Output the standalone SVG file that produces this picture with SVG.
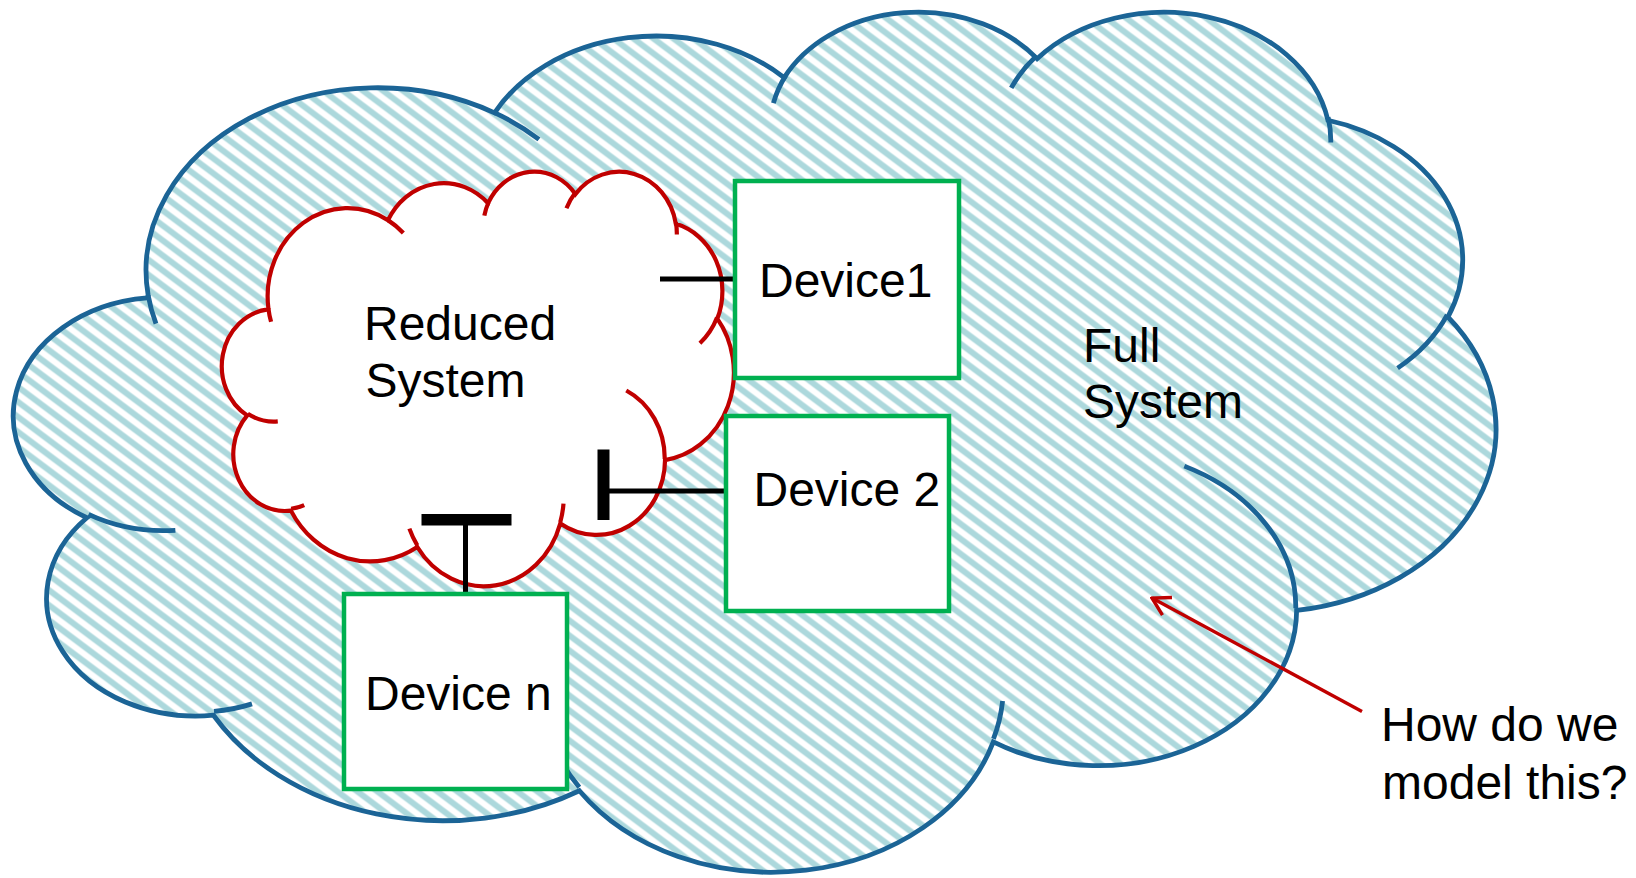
<svg xmlns="http://www.w3.org/2000/svg" width="1636" height="878" viewBox="0 0 1636 878">
<style>
.lbl{font-family:"Liberation Sans",Arial,sans-serif;font-size:48px;fill:#000}
.box{fill:#fff;stroke:#00b050;stroke-width:4.5}
.conn{stroke:#000;stroke-width:5;fill:none}
.bar{fill:#000}
.outer{stroke:#1b6496;stroke-width:4.8;fill:url(#hatch)}
.outerTail{stroke:#1b6496;stroke-width:4.8;fill:none}
.red{stroke:#c00000;stroke-width:4.2;fill:#fff}
.redTail{stroke:#c00000;stroke-width:4.2;fill:none}
</style>
<defs>
<pattern id="hatch" patternUnits="userSpaceOnUse" width="20" height="15" patternTransform="scale(29.174 50.246)">
<rect width="20" height="15" fill="#fff"/>
<path d="M-4,-3 L24,18 M-4,12 L24,33 M-4,-18 L24,3" stroke="#acd8dc" stroke-width="6" fill="none"/>
</pattern>
<marker id="openArrow" viewBox="-22 -12 24 24" refX="0" refY="0" markerUnits="userSpaceOnUse" markerWidth="24" markerHeight="24" orient="auto">
<path d="M-17.3,-10 L0,0 L-17.3,10" fill="none" stroke="#c00000" stroke-width="3.4"/>
</marker>
</defs>
<rect width="1636" height="878" fill="#fff"/>

<g id="full-system">
<g transform="translate(14.5 9.3) scale(0.034277 0.019902)">
<path class="outer" vector-effect="non-scaling-stroke" d="M3900,14370 A6753,9190 0 0 1 14005,5202 A5333,7267 0 0 1 22456,3432 A4365,5945 0 0 1 29833,2481 A4857,6595 0 0 1 38318,5576 A5333,7273 0 0 1 41819,15460 A6775,9220 0 0 1 37405,30203 A5785,7867 0 0 1 28556,36813 A6752,9215 0 0 1 16480,39264 A7720,10543 0 0 1 5805,35470 A4360,5918 0 0 1 2113,25548 A4345,5945 0 0 1 3864,14505 Z"/>
<path class="outerTail" vector-effect="non-scaling-stroke" d="M4693,26177 A4345,5945 0 0 1 2160,25380 M6928,34899 A4360,5918 0 0 1 5820,35280 M16478,39090 A6752,9215 0 0 1 15810,37350 M28827,34751 A6752,9215 0 0 1 28560,36660 M34129,22954 A5785,7867 0 0 1 37380,30090 M41798,15354 A5333,7273 0 0 1 40350,18030 M38324,5426 A4857,6595 0 0 1 38401,6690 M29078,3952 A4857,6595 0 0 1 29820,2339 M22141,4720 A4365,5945 0 0 1 22500,3330 M14000,5192 A6753,9190 0 0 1 15300,6540 M4127,15789 A6753,9190 0 0 1 3900,14370"/>
</g>
<text class="lbl" x="1083" y="362">Full</text>
<text class="lbl" x="1083" y="418">System</text>
</g>

<g id="reduced-system">
<g transform="translate(222.2 170.3) scale(0.011839 0.009594)">
<path class="red" vector-effect="non-scaling-stroke" d="M3900,14370 A6753,9190 0 0 1 14005,5202 A5333,7267 0 0 1 22456,3432 A4365,5945 0 0 1 29833,2481 A4857,6595 0 0 1 38318,5576 A5333,7273 0 0 1 41819,15460 A6775,9220 0 0 1 37405,30203 A5785,7867 0 0 1 28556,36813 A6752,9215 0 0 1 16480,39264 A7720,10543 0 0 1 5805,35470 A4360,5918 0 0 1 2113,25548 A4345,5945 0 0 1 3864,14505 Z"/>
<path class="redTail" vector-effect="non-scaling-stroke" d="M4693,26177 A4345,5945 0 0 1 2160,25380 M6928,34899 A4360,5918 0 0 1 5820,35280 M16478,39090 A6752,9215 0 0 1 15810,37350 M28827,34751 A6752,9215 0 0 1 28560,36660 M34129,22954 A5785,7867 0 0 1 37380,30090 M41798,15354 A5333,7273 0 0 1 40350,18030 M38324,5426 A4857,6595 0 0 1 38401,6690 M29078,3952 A4857,6595 0 0 1 29820,2339 M22141,4720 A4365,5945 0 0 1 22500,3330 M14000,5192 A6753,9190 0 0 1 15300,6540 M4127,15789 A6753,9190 0 0 1 3900,14370"/>
</g>
<text class="lbl" x="364" y="340">Reduced</text>
<text class="lbl" x="365.5" y="397">System</text>
</g>

<g id="connectors">
<line class="conn" x1="660" y1="279" x2="735" y2="279"/>
<line class="conn" x1="604" y1="491" x2="725" y2="491"/>
<rect class="bar" x="597.5" y="449.5" width="12" height="70.5"/>
<line class="conn" x1="465.5" y1="520" x2="465.5" y2="594"/>
<rect class="bar" x="421.5" y="514" width="90" height="11.5"/>
<line x1="1362" y1="711.5" x2="1152" y2="598" stroke="#c00000" stroke-width="3.4" marker-end="url(#openArrow)"/>
</g>

<g id="device1">
<rect class="box" x="735" y="181" width="224" height="197"/>
<text class="lbl" x="759" y="297">Device1</text>
</g>

<g id="device2">
<rect class="box" x="726" y="416" width="223" height="195"/>
<text class="lbl" x="753.5" y="506">Device 2</text>
</g>

<g id="devicen">
<rect class="box" x="344" y="594" width="223" height="195"/>
<text class="lbl" x="365" y="710">Device n</text>
</g>

<g id="question">
<text class="lbl" x="1381" y="741">How do we</text>
<text class="lbl" x="1382" y="799">model this?</text>
</g>
</svg>
